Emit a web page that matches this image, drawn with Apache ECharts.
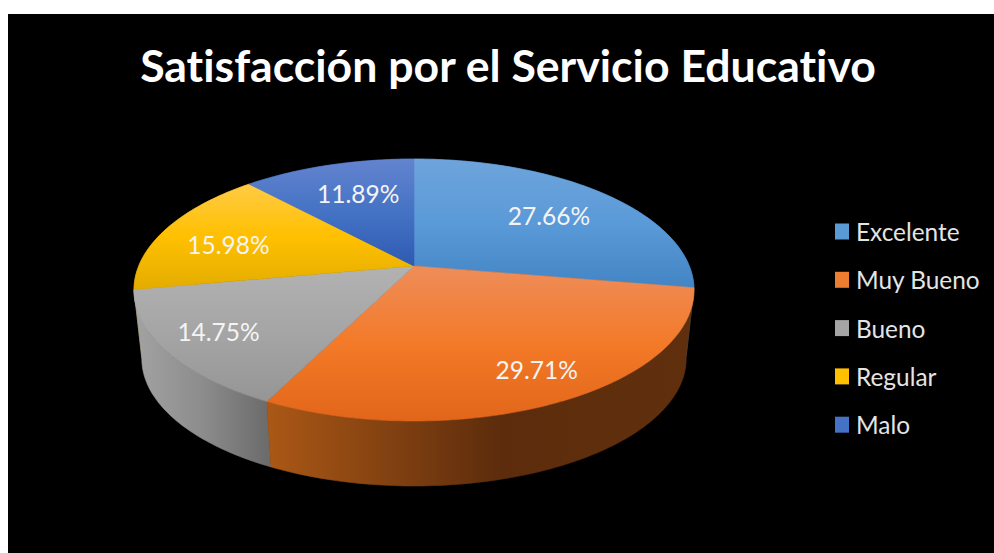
<!DOCTYPE html>
<html><head><meta charset="utf-8">
<style>html,body{margin:0;padding:0;background:#fff}#c{width:994px;height:553px}
svg text{font-variant-ligatures:none !important}</style>
<script src="https://cdn.jsdelivr.net/npm/echarts@6/dist/echarts.min.js"></script>
</head><body><div id="c"></div>
<script>
const categories = ['Excelente', 'Muy Bueno', 'Bueno', 'Regular', 'Malo'];
const percentages = [27.66, 29.71, 14.75, 15.98, 11.89];
const titleText = 'Satisfacción por el Servicio Educativo';

// styles
const faceStops = [
  ['#6ea4db', '#5a9ad8', '#4384c4'],
  ['#ee8d5a', '#f37a28', '#e2661a'],
  ['#b2b2b2', '#a5a5a5', '#959595'],
  ['#ffcb45', '#ffc000', '#e3ac00'],
  ['#6384cf', '#4472c4', '#2e5bb3']
];
const wallStops = [
  ['#2c5f8e', '#2c5f8e', '#2c5f8e'],
  ['#ab5816', '#5c2c0c', '#60300e'],
  ['#a3a3a3', '#8c8c8c', '#6a6a6a'],
  ['#8f6c00', '#8f6c00', '#8f6c00'],
  ['#23467f', '#23467f', '#23467f']
];
const wallMid = [0.5, 0.55, 0.5, 0.5, 0.5];
const legendColors = ['#5b9bd5', '#ed7d31', '#a5a5a5', '#ffc000', '#4472c4'];
const labelRadius = [0.70, 0.80, 0.79, 0.72, 0.65];
const labelNudge = [[-1, 2], [8, 0], [-5, 0], [-5, 6], [3, -4]];
const font = 'Lato, "Open Sans", sans-serif';

// projection of the tilted disc
const view = { cx: 414, apexY: 266, a: 275.3, b: 126.6, k: 0.1832, scale: 0.972, baseApexY: 335.3 };
function project(theta, r, base) {
  const u = r * Math.sin(theta), v = -r * Math.cos(theta);
  const d = 1 - view.k * v;
  const s = base ? view.scale : 1;
  return [view.cx + s * view.a * u / d, (base ? view.baseApexY : view.apexY) + s * view.b * v / d];
}
function arc(t0, t1, base) {
  const n = Math.max(2, Math.ceil((t1 - t0) / (Math.PI / 180)));
  const pts = [];
  for (let i = 0; i <= n; i++) pts.push(project(t0 + (t1 - t0) * i / n, 1, base));
  return pts;
}
function grad(x2, y2, c, mid) {
  return new echarts.graphic.LinearGradient(0, 0, x2, y2, [
    { offset: 0, color: c[0] }, { offset: mid, color: c[1] }, { offset: 1, color: c[2] }
  ]);
}

const total = percentages.reduce((a, b) => a + b, 0);
let running = 0;
const series = categories.map((name, i) => {
  const start = running;
  running += percentages[i];
  return {
    type: 'custom', name, coordinateSystem: 'none',
    itemStyle: { color: legendColors[i] },
    silent: true,
    data: [[percentages[i], start]],
    renderItem(params, api) {
      const val = api.value(0), st = api.value(1);
      const t0 = st / total * 2 * Math.PI, t1 = (st + val) / total * 2 * Math.PI;
      const top = arc(t0, t1, false), bottom = arc(t0, t1, true);
      const mid = project((t0 + t1) / 2, labelRadius[i], false);
      const front = -Math.cos((t0 + t1) / 2);
      const wallFill = grad(1, 0, wallStops[i], wallMid[i]);
      const faceFill = grad(0, 1, faceStops[i], 0.5);
      return { type: 'group', children: [
        { type: 'polygon', z2: 5 + front, shape: { points: top.concat(bottom.slice().reverse()) },
          style: { fill: wallFill, stroke: wallFill, lineWidth: 0.6 } },
        { type: 'polygon', z2: 20, shape: { points: [[view.cx, view.apexY]].concat(top) },
          style: { fill: faceFill, stroke: faceFill, lineWidth: 0.6 } },
        { type: 'text', z2: 40, x: mid[0] + labelNudge[i][0], y: mid[1] + labelNudge[i][1],
          style: { text: val.toFixed(2) + '%', fill: '#f4f4f4', font: '24.5px ' + font, align: 'center', verticalAlign: 'middle' } }
      ] };
    }
  };
});

const chart = echarts.init(document.getElementById('c'), null, { renderer: 'svg' });
chart.setOption({
  animation: false,
  backgroundColor: '#ffffff',
  graphic: [{ type: 'rect', z: -1, shape: { x: 8, y: 14, width: 986, height: 539 }, style: { fill: '#000000' } }],
  title: { text: titleText, left: 503, top: 37, textAlign: 'center',
    textStyle: { color: '#ffffff', fontFamily: font, fontWeight: 'bold', fontSize: 44.6 } },
  legend: { orient: 'vertical', left: 835, top: 218.5, padding: 0, icon: 'rect', itemWidth: 14, itemHeight: 16, itemGap: 22.3,
    data: categories, selectedMode: false,
    textStyle: { color: '#e4e4e4', fontFamily: font, fontSize: 24.4, padding: [0, 0, 0, 2], lineHeight: 26 } },
  series
});
</script></body></html>
